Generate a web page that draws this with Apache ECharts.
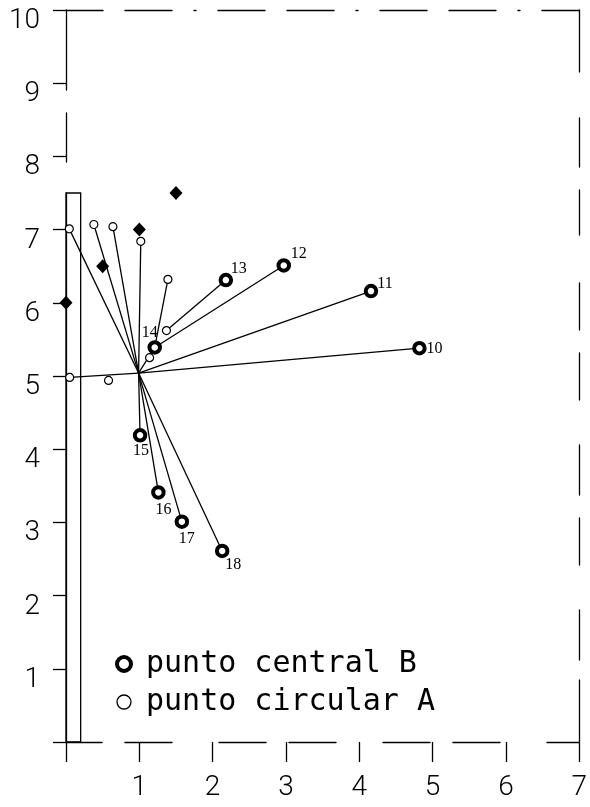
<!DOCTYPE html>
<html>
<head>
<meta charset="utf-8">
<script src="https://cdn.jsdelivr.net/npm/echarts@6/dist/echarts.min.js"></script>
<style>
  html, body { margin: 0; padding: 0; background: #fff; }
  #chart { width: 590px; height: 807px; }
</style>
</head>
<body>
<div id="chart"></div>
<script>
// ---- data ----
const xTickLabels = ['', '1', '2', '3', '4', '5', '6', '7'];
const yTickLabels = ['', '1', '2', '3', '4', '5', '6', '7', '8', '9', '10'];

// point where the segments meet
const centerPoint = [0.99, 5.04];

// punto central B (thick rings, numbered)
const bNames = ['10', '11', '12', '13', '14', '15', '16', '17', '18'];
const bX = [4.82, 4.16, 2.97, 2.18, 1.21, 1.01, 1.26, 1.58, 2.13];
const bY = [5.38, 6.16, 6.51, 6.31, 5.39, 4.19, 3.41, 3.01, 2.61];

// punto circular A (small open circles)
const aNames = ['a1', 'a2', 'a3', 'a4', 'a5', 'a6', 'a7', 'a8', 'a9'];
const aX = [0.045, 0.38, 0.64, 1.02, 1.39, 1.37, 1.14, 0.05, 0.58];
const aY = [7.01, 7.07, 7.04, 6.84, 6.32, 5.62, 5.25, 4.98, 4.94];

// filled diamonds
const dX = [1.5, 1.0, 0.5, 0.0];
const dY = [7.5, 7.0, 6.5, 6.0];

// narrow bar along the y axis
const barX = [0, 0.2];
const barY = [0, 7.5];

// connecting segments (point names; 'C' = centerPoint)
const links = [
  ['10', 'C'], ['C', 'a8'], ['11', 'C'], ['12', '14'], ['13', 'a6'],
  ['a5', '14'], ['14', 'C'], ['15', 'C'], ['16', 'C'], ['17', 'C'], ['18', 'C'],
  ['a1', 'C'], ['a2', 'C'], ['a3', 'C'], ['a4', 'C']
];

const legendNames = ['punto central B', 'punto circular A'];

// ---- build ----
const pts = { C: centerPoint };
bNames.forEach((n, i) => { pts[n] = [bX[i], bY[i]]; });
aNames.forEach((n, i) => { pts[n] = [aX[i], aY[i]]; });

// label placement for the numbered rings (style only)
const labelOffsets = {
  '10': [15, 1], '11': [14, -7], '12': [15, -12], '13': [13, -11], '14': [-5, -15],
  '15': [1, 16], '16': [5, 17], '17': [5, 17], '18': [11, 14]
};

const bData = bNames.map((n, i) => ({
  name: n,
  value: [bX[i], bY[i]],
  label: { show: true, formatter: n, position: 'inside', offset: labelOffsets[n] }
}));

const font = 'Roboto';
const black = '#000';

const chart = echarts.init(document.getElementById('chart'), null, { renderer: 'canvas' });
chart.setOption({
  animation: false,
  backgroundColor: '#fff',
  grid: { left: 66, right: 7, top: 10, bottom: 65, containLabel: false },
  legend: {
    orient: 'vertical',
    left: 115, top: 649,
    itemWidth: 34, itemHeight: 14, itemGap: 8,
    padding: 0,
    selectedMode: false,
    textStyle: { fontFamily: 'DejaVu Sans Mono', fontSize: 30, color: black, fontWeight: 'normal' },
    data: [
      { name: legendNames[0], icon: 'circle', itemStyle: { color: '#fff', borderColor: black, borderWidth: 4 } },
      { name: legendNames[1], icon: 'circle', itemStyle: { color: '#fff', borderColor: black, borderWidth: 1.3 } }
    ]
  },
  xAxis: [{
    type: 'value', min: 0, max: 7, interval: 1, position: 'bottom',
    axisLine: { show: true, onZero: false, lineStyle: { color: black, width: 1.4, type: [47, 47, 47, 23], dashOffset: 105 } },
    axisTick: { show: true, length: 20, lineStyle: { color: black, width: 1.3 } },
    axisLabel: {
      formatter: v => xTickLabels[v], fontFamily: font, fontWeight: 300, fontSize: 28,
      color: black, margin: 32, verticalAlign: 'top'
    },
    splitLine: { show: false }
  }, {
    type: 'value', min: 0, max: 7, interval: 1, position: 'top',
    axisLine: { show: true, onZero: false, lineStyle: { color: black, width: 1.4, type: [47, 22, 47, 22, 2, 22], dashOffset: 10 } },
    axisTick: { show: false }, axisLabel: { show: false }, splitLine: { show: false }
  }],
  yAxis: [{
    type: 'value', min: 0, max: 10, interval: 1, position: 'left',
    axisLine: { show: true, onZero: false, lineStyle: { color: black, width: 1.3, type: [549, 31, 49, 23, 120] } },
    axisTick: { show: true, length: 13, lineStyle: { color: black, width: 1.3 } },
    axisLabel: {
      formatter: v => yTickLabels[v], fontFamily: font, fontWeight: 300, fontSize: 28,
      color: black, margin: 26, verticalAlign: 'top', lineHeight: 22
    },
    splitLine: { show: false }
  }, {
    type: 'value', min: 0, max: 10, interval: 1, position: 'right',
    axisLine: { show: true, onZero: false, lineStyle: { color: black, width: 1.3, type: [62, 20, 50, 45, 47, 23, 50, 45, 47, 23, 47, 48, 45, 23, 49, 46, 70] } },
    axisTick: { show: false }, axisLabel: { show: false }, splitLine: { show: false }
  }],
  series: [
    {
      type: 'lines',
      coordinateSystem: 'cartesian2d',
      silent: true,
      z: 2,
      lineStyle: { color: black, width: 1.3, opacity: 1 },
      data: links.map(([p, q]) => ({ coords: [pts[p], pts[q]] })),
      markArea: {
        silent: true,
        itemStyle: { color: 'rgba(0,0,0,0)', borderColor: black, borderWidth: 1.3 },
        data: [[{ coord: [barX[0], barY[0]] }, { coord: [barX[1], barY[1]] }]]
      }
    },
    {
      name: legendNames[1],
      type: 'scatter',
      z: 3,
      symbol: 'circle',
      symbolSize: 8,
      itemStyle: { color: '#fff', borderColor: black, borderWidth: 1.2, opacity: 1 },
      data: aNames.map((n, i) => [aX[i], aY[i]])
    },
    {
      type: 'scatter',
      z: 3,
      symbol: 'diamond',
      symbolSize: [13, 14],
      itemStyle: { color: black, opacity: 1 },
      data: dX.map((x, i) => [x, dY[i]])
    },
    {
      name: legendNames[0],
      type: 'scatter',
      z: 4,
      symbol: 'circle',
      symbolSize: 10.5,
      itemStyle: { color: '#fff', borderColor: black, borderWidth: 4, opacity: 1 },
      label: { fontFamily: 'Liberation Serif', fontSize: 16, color: black },
      data: bData
    }
  ]
});
</script>
</body>
</html>
